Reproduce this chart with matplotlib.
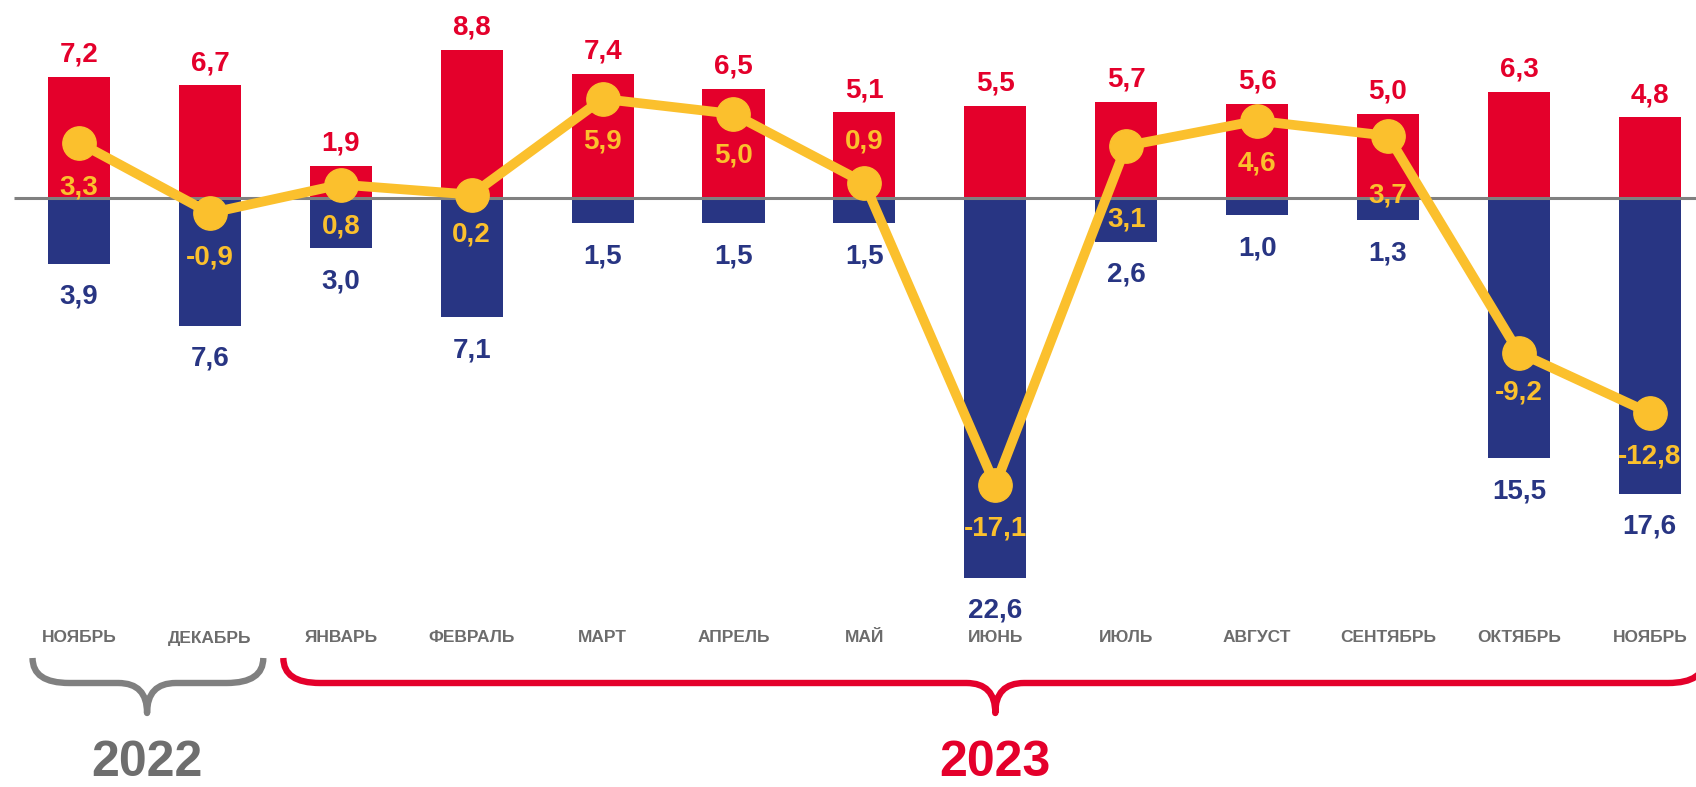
import matplotlib.pyplot as plt
from matplotlib.path import Path
from matplotlib.patches import PathPatch
import numpy as np


months = ["НОЯБРЬ", "ДЕКАБРЬ", "ЯНВАРЬ", "ФЕВРАЛЬ", "МАРТ", "АПРЕЛЬ", "МАЙ",
          "ИЮНЬ", "ИЮЛЬ", "АВГУСТ", "СЕНТЯБРЬ", "ОКТЯБРЬ", "НОЯБРЬ"]
growth = [7.2, 6.7, 1.9, 8.8, 7.4, 6.5, 5.1, 5.5, 5.7, 5.6, 5.0, 6.3, 4.8]
decline = [3.9, 7.6, 3.0, 7.1, 1.5, 1.5, 1.5, 22.6, 2.6, 1.0, 1.3, 15.5, 17.6]
balance = [3.3, -0.9, 0.8, 0.2, 5.9, 5.0, 0.9, -17.1, 3.1, 4.6, 3.7, -9.2, -12.8]

# where each yellow label sits relative to its point (points)
bal_offsets = [-32, -32, -30, -29, -31, -30, 30, -31, -53, -31, -43, -29, -31]

RED = "#E4002B"
BLUE = "#283583"
YELLOW = "#FBC02D"
GRAY = "#6C6C6C"

plt.rcParams['font.family'] = ['Liberation Sans', 'DejaVu Sans']
plt.rcParams['font.weight'] = 'bold'


def fmt(v):
    return f"{v:.1f}".replace(".", ",")


def yv(p):
    # pixel row -> value on the axis
    return (198 - p) / 16.8


def brace(ax, x0, x1, xt, color):
    ytop, ymid, ytip = yv(658), yv(683), yv(713)
    dx, dt = 0.28, 0.22
    verts = [(x0, ytop), (x0, ymid), (x0 + dx, ymid),
             (xt - dt, ymid),
             (xt, ymid), (xt, ytip),
             (xt, ymid), (xt + dt, ymid),
             (x1 - dx, ymid),
             (x1, ymid), (x1, ytop)]
    codes = [Path.MOVETO, Path.CURVE3, Path.CURVE3,
             Path.LINETO,
             Path.CURVE3, Path.CURVE3,
             Path.CURVE3, Path.CURVE3,
             Path.LINETO,
             Path.CURVE3, Path.CURVE3]
    ax.add_patch(PathPatch(Path(verts, codes), fill=False, edgecolor=color,
                           lw=4.6, capstyle='butt', joinstyle='round'))


fig = plt.figure(figsize=(16.96, 7.87), dpi=100)
ax = fig.add_axes([0, 0, 1, 1])
ax.axis('off')
ax.set_xlim(-0.6035, 12.353)
ax.set_ylim(yv(787), yv(0))

x = np.arange(len(months))
ax.bar(x, growth, width=0.474, color=RED, zorder=2)
ax.bar(x, [-v for v in decline], width=0.474, color=BLUE, zorder=2)
ax.hlines(0, -0.5, 12.4, color="#808080", lw=2.2, zorder=3)
ax.plot(x, balance, color=YELLOW, lw=7, marker='o', ms=24, zorder=4)

for i in range(len(months)):
    ax.annotate(fmt(growth[i]), (x[i], growth[i]), xytext=(0, 11),
                textcoords='offset points', ha='center', va='baseline',
                color=RED, fontsize=20)
    ax.annotate(fmt(decline[i]), (x[i], -decline[i]), xytext=(0, -29),
                textcoords='offset points', ha='center', va='baseline',
                color=BLUE, fontsize=20)
    ax.annotate(fmt(balance[i]), (x[i], balance[i]), xytext=(0, bal_offsets[i]),
                textcoords='offset points', ha='center', va='center',
                color=YELLOW, fontsize=20, zorder=5)
    ax.text(x[i], yv(638), months[i], ha='center', va='center',
            fontsize=12.5, color=GRAY)

brace(ax, -0.355, 1.408, 0.52, "#808080")
brace(ax, 1.561, 12.42, 7.0, RED)

ax.text(0.52, yv(786), "2022", ha='center', va='bottom', fontsize=36,
        color="#6E6E6E")
ax.text(7.0, yv(786), "2023", ha='center', va='bottom', fontsize=36,
        color=RED)

fig.savefig("out.png", dpi=100)
